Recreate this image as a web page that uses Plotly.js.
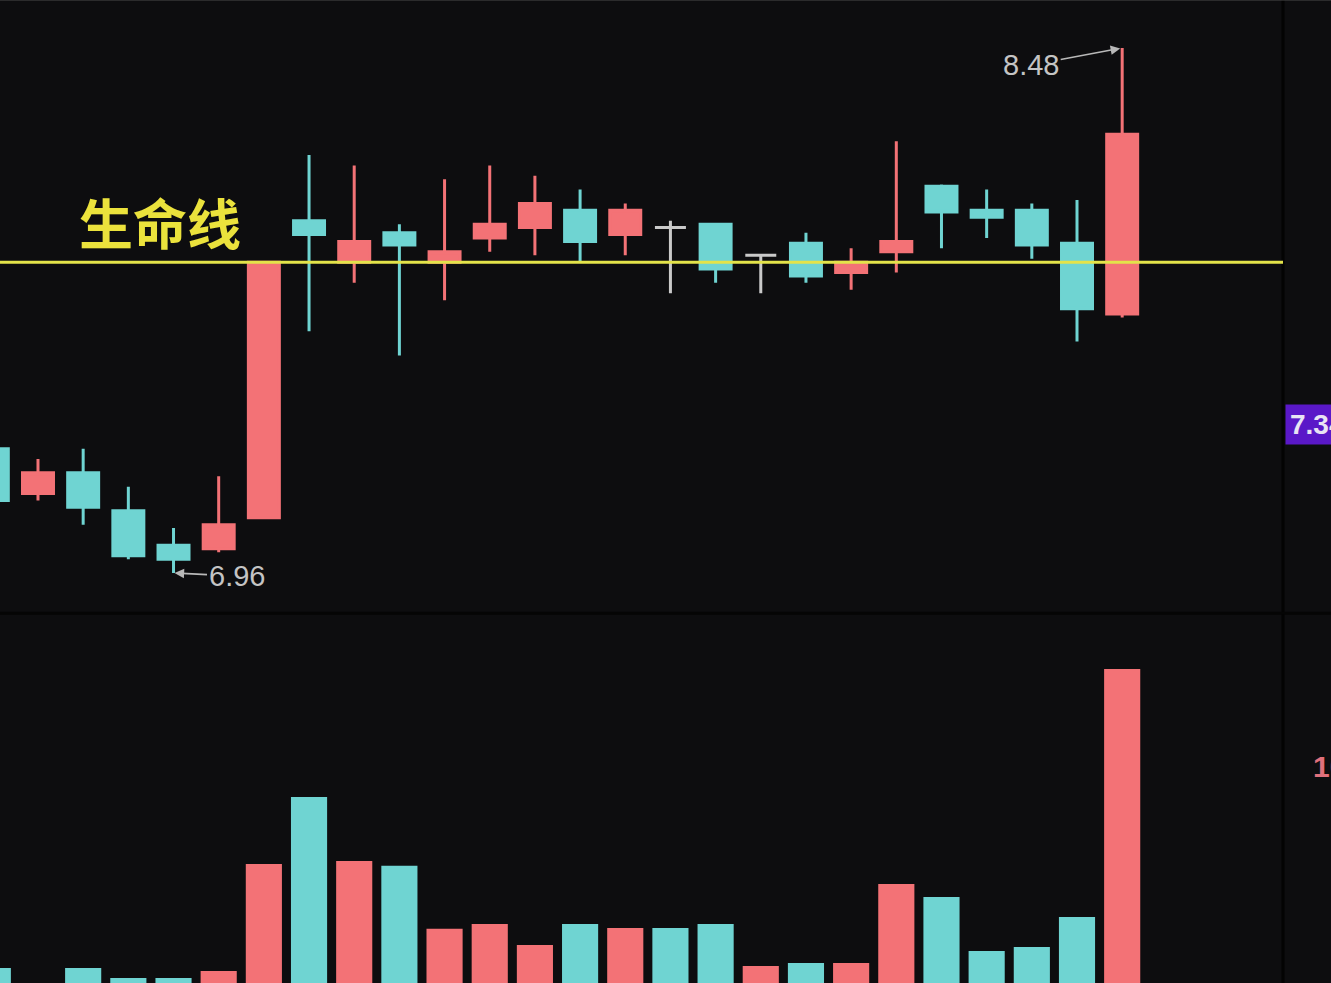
<!DOCTYPE html>
<html><head><meta charset="utf-8">
<script src="https://cdn.plot.ly/plotly-3.0.1.min.js"></script>
<style>html,body{margin:0;padding:0;background:#0d0d0f;overflow:hidden}</style>
</head><body><div id="chart" style="width:1331px;height:983px"></div>
<script>
// ---- data ----
const dayIndex = [0,1,2,3,4,5,6,7,8,9,10,11,12,13,14,15,16,17,18,19,20,21,22,23,24,25];
const openP  = [7.32,7.19,7.25,7.14,7.04,7.03,7.12,7.98,7.86,7.945,7.86,7.93,7.96,8.01,7.94,7.96,7.97,7.88,7.915,7.83,7.89,8.08,8.01,8.01,7.915,7.71];
const highP  = [7.33,7.29,7.32,7.21,7.09,7.24,7.86,8.17,8.14,7.97,8.10,8.14,8.11,8.07,8.03,7.98,7.97,7.88,7.945,7.90,8.21,8.085,8.07,8.03,8.04,8.48];
const lowP   = [7.15,7.17,7.10,7.00,6.96,7.02,7.12,7.66,7.80,7.59,7.75,7.89,7.88,7.86,7.88,7.77,7.80,7.77,7.80,7.78,7.83,7.90,7.93,7.87,7.63,7.70];
const closeP = [7.17,7.25,7.15,7.01,7.00,7.10,7.86,7.94,7.92,7.91,7.89,7.97,8.03,7.92,8.01,7.96,7.84,7.88,7.82,7.86,7.92,8.005,7.99,7.91,7.725,8.23];
const volume = [1.48,0.6,1.48,1.06,1.06,1.36,5.89,8.73,6.02,5.81,3.14,3.35,2.46,3.35,3.18,3.18,3.35,1.57,1.69,1.69,5.04,4.49,2.20,2.37,3.64,14.15];
const lifeLine = 7.86;
const lifeLineLabel = '生命线';
const peakIdx = 25, peakPrice = 8.48;
const lowIdx = 4, lowPrice = 6.96;
const lastPriceTag = '7.34', lastPriceValue = 7.39;
const volTickVals = [10], volTickText = ['10'];

// ---- styles ----
const RED = '#f37276', CYAN = '#6fd4d2', GREY = '#c9c9c9', BG = '#0d0d0f';

// split dojis
const idxMain = dayIndex.filter(i => openP[i] !== closeP[i]);
const idxDoji = dayIndex.filter(i => openP[i] === closeP[i]);
const pick = (arr, ids) => ids.map(i => arr[i]);

const volColors = dayIndex.map(i => {
  if (closeP[i] > openP[i]) return RED;
  if (closeP[i] < openP[i]) return CYAN;
  return (i > 0 && closeP[i] >= closeP[i-1]) ? RED : CYAN;
});

const traces = [
  {type:'candlestick', x: pick(dayIndex, idxMain), open: pick(openP, idxMain), high: pick(highP, idxMain),
   low: pick(lowP, idxMain), close: pick(closeP, idxMain), xaxis:'x', yaxis:'y',
   increasing:{line:{color:RED,width:3}, fillcolor:RED},
   decreasing:{line:{color:CYAN,width:3}, fillcolor:CYAN}, whiskerwidth:0, hoverinfo:'skip'},
  {type:'candlestick', x: pick(dayIndex, idxDoji), open: pick(openP, idxDoji), high: pick(highP, idxDoji),
   low: pick(lowP, idxDoji), close: pick(closeP, idxDoji), xaxis:'x', yaxis:'y',
   increasing:{line:{color:GREY,width:3}, fillcolor:GREY},
   decreasing:{line:{color:GREY,width:3}, fillcolor:GREY}, whiskerwidth:0, hoverinfo:'skip'},
  {type:'bar', x: dayIndex, y: volume, xaxis:'x', yaxis:'y2', width:0.8,
   marker:{color: volColors, line:{width:0}}, hoverinfo:'skip'}
];

const layout = {
  width:1331, height:983, margin:{l:0,r:48,t:0,b:0},
  paper_bgcolor: BG, plot_bgcolor: BG, showlegend:false, boxgap:0.02,
  xaxis:{range:[0.159,28.56], visible:false, rangeslider:{visible:false}, fixedrange:true},
  yaxis:{domain:[0.3774,1], range:[6.847,8.619], visible:false, showgrid:false, zeroline:false},
  yaxis2:{domain:[0,0.3744], range:[0.847,16.44], side:'right', showgrid:false, zeroline:false,
    showline:false, ticks:'', tickvals: volTickVals, ticktext: volTickText, ticklabelstandoff:29,
    tickfont:{family:'Liberation Sans, Arial, sans-serif', size:30, color:'#e0707c', weight:'bold'}},
  shapes:[
    {type:'line', xref:'paper', yref:'paper', x0:1.0, x1:1.0, y0:0, y1:1, line:{color:'#030303', width:3}},
    {type:'line', xref:'paper', yref:'paper', x0:0, x1:1.04, y0:0.3762, y1:0.3762, line:{color:'#050505', width:3}},
    {type:'line', xref:'paper', yref:'paper', x0:0, x1:1.04, y0:1, y1:1, line:{color:'#4a4a4a', width:1}},
    {type:'line', xref:'paper', yref:'y', x0:0, x1:1.0, y0:lifeLine, y1:lifeLine, line:{color:'#e3e34a', width:3}}
  ],
  annotations:[
    {xref:'x', yref:'y', x:3.71, y:7.978, text:lifeLineLabel, showarrow:false,
     font:{family:'Noto Sans CJK SC, sans-serif', size:54, color:'#ebe23c', weight:'bold'}},
    {xref:'x', yref:'y', x:peakIdx, y:peakPrice, text:String(peakPrice.toFixed(2)), showarrow:true,
     ax:-91, ay:17, arrowhead:2, arrowsize:1.2, arrowwidth:1.6, arrowcolor:'#b8b8b8', standoff:2,
     font:{family:'Liberation Sans, Arial, sans-serif', size:29, color:'#c4c4c4'}},
    {xref:'x', yref:'y', x:lowIdx, y:lowPrice, text:String(lowPrice.toFixed(2)), showarrow:true,
     ax:63, ay:3, arrowhead:2, arrowsize:1.2, arrowwidth:1.6, arrowcolor:'#b8b8b8', standoff:1,
     font:{family:'Liberation Sans, Arial, sans-serif', size:29, color:'#c4c4c4'}},
    {xref:'paper', yref:'y', x:1.0015, y:lastPriceValue, xanchor:'left', yanchor:'middle',
     text:'<b>'+lastPriceTag+'</b>', showarrow:false, bgcolor:'#5a18c8', borderpad:4,
     font:{family:'Liberation Sans, Arial, sans-serif', size:28, color:'#e8e4f4'}}
  ]
};

Plotly.newPlot('chart', traces, layout, {displayModeBar:false, staticPlot:true});
</script>
</body></html>
